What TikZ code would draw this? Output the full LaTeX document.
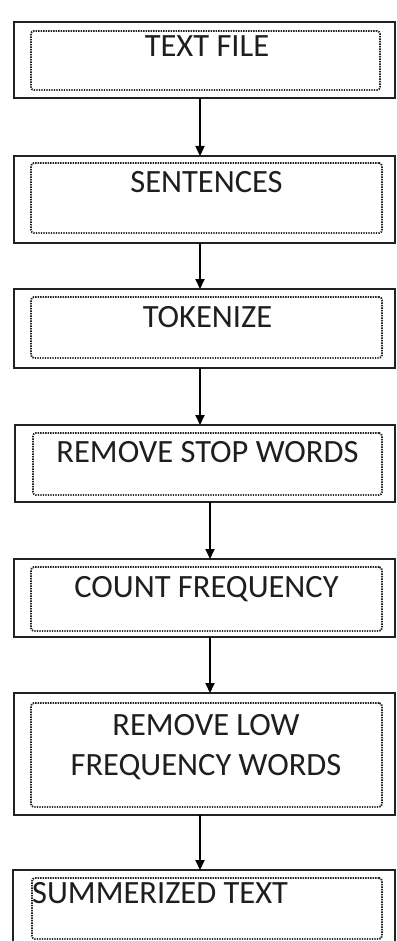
\documentclass[tikz,border=0pt]{standalone}
\usepackage{fontspec}
\setmainfont{Carlito}
\usetikzlibrary{arrows.meta}
\definecolor{ink}{HTML}{1E1E1E}
\definecolor{frame}{HTML}{222222}
\tikzset{
  outerbox/.style={draw=frame, line width=2.2pt, rectangle, inner sep=0pt, outer sep=0pt, anchor=north west},
  innerbox/.style={draw=frame, line width=1.8pt, dash pattern=on 1.4pt off 1.1pt, rounded corners=3pt, rectangle, inner sep=0pt, outer sep=0pt, anchor=north west},
  label/.style={text=ink, inner sep=0pt, font=\fontsize{32.5}{40}\selectfont},
  flow/.style={draw=black, line width=1.8pt, -{Triangle[length=10pt,width=9pt]}},
}
\begin{document}
\begin{tikzpicture}[x=1pt,y=-1pt]
\useasboundingbox (0,0) rectangle (396,941);
\clip (0,0) rectangle (396,941);
\fill[white] (0,0) rectangle (396,941);
% boxes
\node[outerbox, minimum width=381pt, minimum height=76pt] (b1) at (14,22) {};
\node[innerbox, minimum width=349pt, minimum height=59pt] (b1i) at (31,31) {};
\node[outerbox, minimum width=381pt, minimum height=87pt] (b2) at (14,156) {};
\node[innerbox, minimum width=351pt, minimum height=70pt] (b2i) at (31,163) {};
\node[outerbox, minimum width=381pt, minimum height=79pt] (b3) at (14,289) {};
\node[innerbox, minimum width=351pt, minimum height=61pt] (b3i) at (31,297) {};
\node[outerbox, minimum width=380pt, minimum height=77pt] (b4) at (15,425) {};
\node[innerbox, minimum width=349pt, minimum height=62pt] (b4i) at (33,433) {};
\node[outerbox, minimum width=381pt, minimum height=78pt] (b5) at (14,559) {};
\node[innerbox, minimum width=351pt, minimum height=64pt] (b5i) at (31,567) {};
\node[outerbox, minimum width=381pt, minimum height=122pt] (b6) at (14,693) {};
\node[innerbox, minimum width=351pt, minimum height=104pt] (b6i) at (31,703) {};
\node[outerbox, minimum width=382pt, minimum height=90pt] (b7) at (13,870) {};
\node[innerbox, minimum width=350pt, minimum height=61pt] (b7i) at (32,878) {};
% texts
\node[label, anchor=base] (t1) at (207,57) {TEXT FILE};
\node[label, anchor=base] (t2) at (206.5,193) {SENTENCES};
\node[label, anchor=base] (t3) at (207.5,327) {TOKENIZE};
\node[label, anchor=base] (t4) at (207.5,462) {REMOVE STOP WORDS};
\node[label, anchor=base] (t5) at (206.5,597) {COUNT FREQUENCY};
\node[label, anchor=base, align=center] (t6) at (206,775) {REMOVE LOW\\FREQUENCY WORDS};
\node[label, anchor=base west] (t7) at (32,903) {SUMMERIZED TEXT};
% connectors
\coordinate (x1) at (200,0);
\coordinate (x2) at (210,0);
\draw[flow] (b1.south -| x1) -- (b2.north -| x1);
\draw[flow] (b2.south -| x1) -- (b3.north -| x1);
\draw[flow] (b3.south -| x1) -- (b4.north -| x1);
\draw[flow] (b4.south -| x2) -- (b5.north -| x2);
\draw[flow] (b5.south -| x2) -- (b6.north -| x2);
\draw[flow] (b6.south -| x1) -- (b7.north -| x1);
\end{tikzpicture}
\end{document}
